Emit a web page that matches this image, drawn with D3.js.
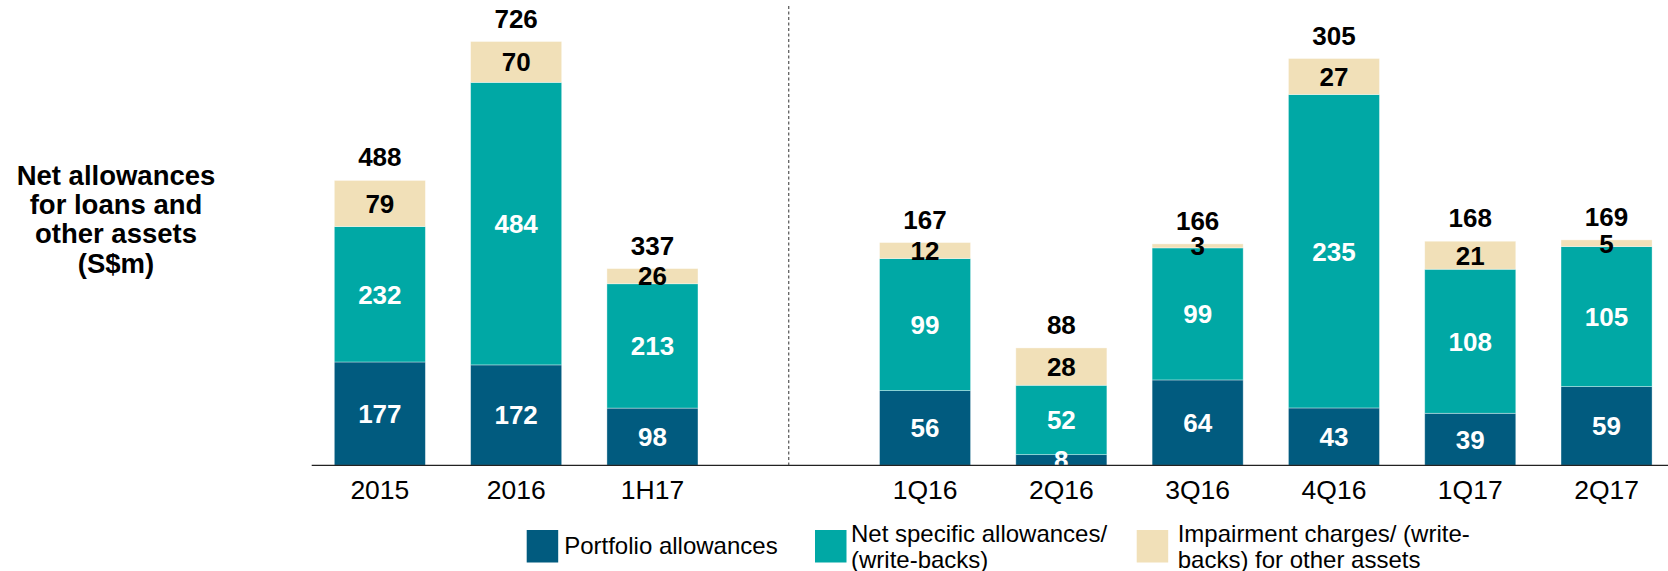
<!DOCTYPE html>
<html>
<head>
<meta charset="utf-8">
<script src="https://cdn.jsdelivr.net/npm/d3@7"></script>
<style>
  html, body { margin: 0; padding: 0; background: #fff; }
  svg { display: block; font-family: Arial, "Liberation Sans", Helvetica, sans-serif; }
</style>
</head>
<body>
<svg id="chart" width="1668" height="571"></svg>
<script>
// ---- data ----
const annualCats = ["2015", "2016", "1H17"];
const quarterCats = ["1Q16", "2Q16", "3Q16", "4Q16", "1Q17", "2Q17"];
const categories = [...annualCats, ...quarterCats];
const portfolio = [177, 172, 98, 56, 8, 64, 43, 39, 59];
const specific = [232, 484, 213, 99, 52, 99, 235, 108, 105];
const impairment = [79, 70, 26, 12, 28, 3, 27, 21, 5];
const totals = [488, 726, 337, 167, 88, 166, 305, 168, 169];
const seriesNames = ["Portfolio allowances", "Net specific allowances/ (write-backs)", "Impairment charges/ (write-backs) for other assets"];
const legendLines = [["Portfolio allowances"], ["Net specific allowances/", "(write-backs)"], ["Impairment charges/ (write-", "backs) for other assets"]];
const titleLines = ["Net allowances", "for loans and", "other assets", "(S$m)"];
const colors = ["#015b7f", "#00a8a5", "#f1e0b8"];
const labelColors = ["#ffffff", "#ffffff", "#000000"];

// ---- layout ----
const svg = d3.select("#chart");
const baseY = 465.3;
const sepKey = "__sep__";
const x = d3.scaleBand()
  .domain([...annualCats, sepKey, ...quarterCats])
  .range([311.7, 1674.7])
  .paddingInner(0.332)
  .paddingOuter(0.166);
const yAnnual = d3.scaleLinear().domain([0, 726]).range([baseY, 41.5]);
const yQuarter = d3.scaleLinear().domain([0, 305]).range([baseY, 58.5]);
const yFor = c => annualCats.includes(c) ? yAnnual : yQuarter;

const rows = categories.map((c, i) => ({ cat: c, portfolio: portfolio[i], specific: specific[i], impairment: impairment[i], total: totals[i] }));
const keys = ["portfolio", "specific", "impairment"];
const stacked = d3.stack().keys(keys)(rows);

const clip = svg.append("defs").append("clipPath").attr("id", "plotClip");
clip.append("rect").attr("x", 0).attr("y", 0).attr("width", 1668).attr("height", baseY);

// bars
const barG = svg.append("g");
stacked.forEach((layer, li) => {
  barG.selectAll(null).data(layer).enter().append("rect")
    .attr("x", d => x(d.data.cat))
    .attr("width", x.bandwidth())
    .attr("y", d => yFor(d.data.cat)(d[1]))
    .attr("height", d => yFor(d.data.cat)(d[0]) - yFor(d.data.cat)(d[1]))
    .attr("fill", colors[li])
    .attr("stroke", "#ffffff")
    .attr("stroke-opacity", 0.45)
    .attr("stroke-width", 0.8);
});

// segment labels
const labG = svg.append("g").attr("clip-path", "url(#plotClip)");
const fs = 26;
stacked.forEach((layer, li) => {
  labG.selectAll(null).data(layer).enter().append("text")
    .attr("x", d => x(d.data.cat) + x.bandwidth() / 2)
    .attr("y", d => { const y = yFor(d.data.cat); return (y(d[0]) + y(d[1])) / 2 + fs * 0.358; })
    .attr("text-anchor", "middle")
    .attr("font-size", fs)
    .attr("font-weight", "bold")
    .attr("fill", labelColors[li])
    .text(d => d.data[keys[li]]);
});

// totals
svg.append("g").selectAll("text").data(rows).enter().append("text")
  .attr("x", d => x(d.cat) + x.bandwidth() / 2)
  .attr("y", d => yFor(d.cat)(d.total) - 14)
  .attr("text-anchor", "middle")
  .attr("font-size", fs)
  .attr("font-weight", "bold")
  .attr("fill", "#000")
  .text(d => d.total);

// x axis
const axis = d3.axisBottom(x).tickSize(0).tickPadding(0).tickFormat(d => d === sepKey ? "" : d);
const axG = svg.append("g").attr("transform", `translate(0,${baseY})`).call(axis);
axG.select(".domain").attr("d", `M311.7,0H1668`).attr("stroke", "#222").attr("stroke-width", 1.3);
axG.selectAll(".tick text")
  .attr("y", 34)
  .attr("dy", 0)
  .attr("font-size", 26.5)
  .attr("font-family", "Arial, 'Liberation Sans', sans-serif")
  .attr("fill", "#000");

// separator dashed line
const sepX = x(sepKey) + x.bandwidth() / 2;
svg.append("line")
  .attr("x1", sepX).attr("x2", sepX)
  .attr("y1", 6).attr("y2", baseY)
  .attr("stroke", "#444")
  .attr("stroke-width", 1.1)
  .attr("stroke-dasharray", "3,2.5");

// y title
const title = svg.append("text")
  .attr("text-anchor", "middle")
  .attr("font-size", 27.5)
  .attr("font-weight", "bold")
  .attr("fill", "#000");
titleLines.forEach((t, i) => {
  title.append("tspan").attr("x", 116).attr("y", 185 + i * 29.2).text(t);
});

// legend
const legendX = [526.7, 815, 1136.7];
const legG = svg.append("g");
legendLines.forEach((lines, i) => {
  legG.append("rect")
    .attr("x", legendX[i]).attr("y", 530)
    .attr("width", 31.5).attr("height", 32.5)
    .attr("fill", colors[i]);
  const t = legG.append("text")
    .attr("font-size", 24)
    .attr("fill", "#000");
  if (lines.length === 1) {
    t.append("tspan").attr("x", legendX[i] + 37.5).attr("y", 554.3).text(lines[0]);
  } else {
    lines.forEach((ln, j) => {
      t.append("tspan").attr("x", legendX[i] + 36.5 + (i === 1 ? -0.5 : 4.5)).attr("y", 541.7 + j * 26).text(ln);
    });
  }
});
</script>
</body>
</html>
